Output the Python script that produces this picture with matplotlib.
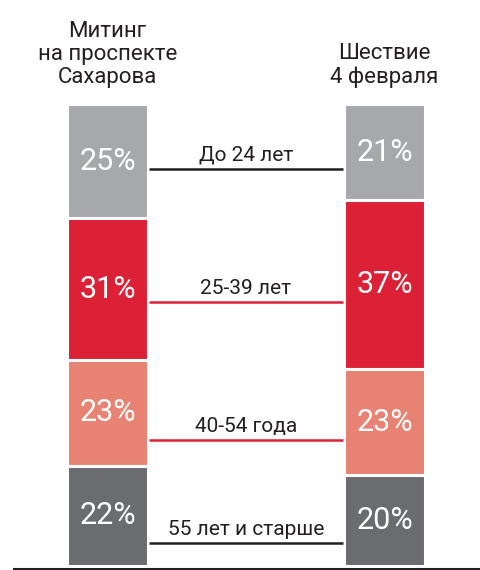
import matplotlib.pyplot as plt

plt.rcParams['font.family'] = ['Roboto', 'DejaVu Sans']

# age groups, top to bottom
groups = ['До 24 лет', '25-39 лет', '40-54 года', '55 лет и старше']
events = ['Митинг\nна проспекте\nСахарова', 'Шествие\n4 февраля']
sakharov = [25, 31, 23, 22]
feb4 = [21, 37, 23, 20]

colors = ['#a7a8ab', '#dc2035', '#e88373', '#6b6c70']
line_colors = ['#231f20', '#dc2035', '#dc2035', '#231f20']
TXT = '#231f20'

fig = plt.figure(figsize=(4.8, 5.7), dpi=100)
ax = fig.add_axes([14 / 480, 1 - 569 / 570, 464 / 480, 465 / 570])

width = 0.29
mids = []
for xi, vals in enumerate([sakharov, feb4]):
    bottom = 0
    m = []
    for v, c in zip(vals, colors):
        ax.bar(xi, v, bottom=bottom, width=width, color=c, edgecolor='white',
               linewidth=2.2, align='center')
        ax.text(xi, bottom + v / 2, f'{v}%', color='white', fontsize=22,
                ha='center', va='center')
        m.append(bottom + v / 2)
        bottom += v
    mids.append(m)

# connectors with group names, a bit under the lower label of each pair
for i, g in enumerate(groups):
    y = max(mids[0][i], mids[1][i]) * 1.04 + 1.2
    ax.hlines(y, width / 2 + 0.005, 1 - width / 2 - 0.005, color=line_colors[i], lw=1.8)
    ax.text(0.5, y - 0.9, g, color=TXT, fontsize=15, ha='center', va='bottom')

for xi, name in enumerate(events):
    ax.text(xi, -3.4, name, color=TXT, fontsize=16, ha='center', va='bottom',
            linespacing=1.15, clip_on=False)

ax.set_xlim(-0.3375, 1.3375)
ax.set_ylim(101.6, 0)
for s in ['top', 'left', 'right']:
    ax.spines[s].set_visible(False)
ax.spines['bottom'].set_linewidth(2.2)
ax.spines['bottom'].set_color('#231f20')
ax.set_xticks([])
ax.set_yticks([])
ax.patch.set_alpha(0)

fig.savefig('out.png', dpi=100)
